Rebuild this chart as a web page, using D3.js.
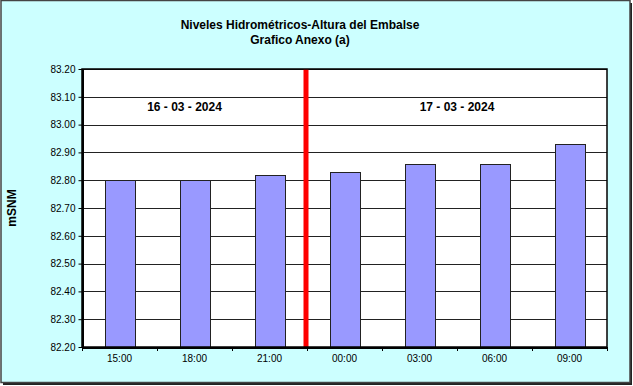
<!DOCTYPE html>
<html>
<head>
<meta charset="utf-8">
<script src="https://cdn.jsdelivr.net/npm/d3@7"></script>
<style>
  body { margin: 0; background: #fff; }
  text { font-family: Arial, "Liberation Sans", sans-serif; }
</style>
</head>
<body>
<div id="chart"></div>
<script>
const horas = ["15:00", "18:00", "21:00", "00:00", "03:00", "06:00", "09:00"];
const niveles = [82.80, 82.80, 82.82, 82.83, 82.86, 82.86, 82.93];
const yTicks = [82.20, 82.30, 82.40, 82.50, 82.60, 82.70, 82.80, 82.90, 83.00, 83.10, 83.20];
const fechas = [
  { label: "16 - 03 - 2024", from: "15:00", to: "21:00" },
  { label: "17 - 03 - 2024", from: "00:00", to: "09:00" }
];
const corte = ["21:00", "00:00"];

const W = 633, H = 386;
const margin = { top: 69, right: 26, bottom: 39, left: 82 };
const width = W - margin.left - margin.right;
const height = H - margin.top - margin.bottom;

const svgRoot = d3.select("#chart").append("svg")
  .attr("width", W)
  .attr("height", H);

// fondo y marco
svgRoot.append("rect")
  .attr("x", 3).attr("y", 3).attr("width", W - 4).attr("height", H - 4)
  .attr("fill", "#222");
svgRoot.append("rect")
  .attr("x", 1).attr("y", 0.5).attr("width", W - 4).attr("height", H - 4)
  .attr("fill", "#ccffff")
  .attr("stroke", "#444")
  .attr("stroke-width", 1.5);

svgRoot.append("text")
  .attr("x", 300).attr("y", 29)
  .attr("text-anchor", "middle")
  .attr("font-size", "12px").attr("font-weight", "bold")
  .text("Niveles Hidrométricos-Altura del Embalse");
svgRoot.append("text")
  .attr("x", 300).attr("y", 44)
  .attr("text-anchor", "middle")
  .attr("font-size", "12px").attr("font-weight", "bold")
  .text("Grafico Anexo (a)");

svgRoot.append("text")
  .attr("transform", `translate(16,${margin.top + height / 2}) rotate(-90)`)
  .attr("text-anchor", "middle")
  .attr("font-size", "12px").attr("font-weight", "bold")
  .text("mSNM");

const svg = svgRoot.append("g")
  .attr("transform", `translate(${margin.left},${margin.top})`);

const x = d3.scaleBand().domain(horas).range([0, width]).paddingInner(0).paddingOuter(0);
const y = d3.scaleLinear().domain([82.2, 83.2]).range([height, 0]);

svg.append("rect")
  .attr("width", width).attr("height", height)
  .attr("fill", "#fff");

svg.selectAll(".grid")
  .data(yTicks)
  .enter()
  .append("line")
  .attr("x1", 0).attr("x2", width)
  .attr("y1", d => Math.round(y(d)) + 0.5)
  .attr("y2", d => Math.round(y(d)) + 0.5)
  .attr("stroke", "#222")
  .attr("stroke-width", 1);

const barW = x.bandwidth() * 0.4;
svg.selectAll(".bar")
  .data(niveles)
  .enter()
  .append("rect")
  .attr("x", (d, i) => Math.round(x(horas[i]) + (x.bandwidth() - barW) / 2) + 0.5)
  .attr("y", d => Math.round(y(d)) + 0.5)
  .attr("width", barW)
  .attr("height", d => height - Math.round(y(d)))
  .attr("fill", "#9999ff")
  .attr("stroke", "#222")
  .attr("stroke-width", 1);

// linea de cambio de dia
const xc = x(corte[1]);
svg.append("line")
  .attr("x1", xc - 1).attr("x2", xc - 1)
  .attr("y1", 0).attr("y2", height)
  .attr("stroke", "#ff0000")
  .attr("stroke-width", 5);

svg.selectAll(".fecha")
  .data(fechas)
  .enter()
  .append("text")
  .attr("x", d => (x(d.from) + x(d.to) + x.bandwidth()) / 2 - (d.from === "15:00" ? 10 : 0))
  .attr("y", 42)
  .attr("text-anchor", "middle")
  .attr("font-size", "12px").attr("font-weight", "bold")
  .text(d => d.label);

// ejes
const yAxis = svg.append("g")
  .attr("transform", "translate(0.5,0)")
  .call(d3.axisLeft(y).tickValues(yTicks).tickFormat(d3.format(".2f")).tickSize(4).tickSizeOuter(0));
yAxis.select(".domain").attr("stroke", "#000").attr("stroke-width", 2);
yAxis.selectAll("text").attr("font-size", "10px").attr("font-family", "Arial, 'Liberation Sans', sans-serif").attr("fill", "#000");

const xAxis = svg.append("g")
  .attr("transform", `translate(0,${height + 0.5})`)
  .call(d3.axisBottom(x).tickSize(0).tickSizeOuter(0));
xAxis.select(".domain").attr("stroke", "#000").attr("stroke-width", 2);
xAxis.selectAll("text").attr("dy", "1.1em").attr("font-size", "10px").attr("font-family", "Arial, 'Liberation Sans', sans-serif").attr("fill", "#000");

svg.selectAll(".xtick")
  .data(horas.concat(["fin"]))
  .enter()
  .append("line")
  .attr("x1", (d, i) => Math.round(i * x.step()) + 0.5)
  .attr("x2", (d, i) => Math.round(i * x.step()) + 0.5)
  .attr("y1", height).attr("y2", height + 4)
  .attr("stroke", "#000");

svg.append("rect")
  .attr("x", 0).attr("y", 0).attr("width", width).attr("height", height)
  .attr("fill", "none")
  .attr("stroke", "#000")
  .attr("stroke-width", 1.5);
</script>
</body>
</html>
